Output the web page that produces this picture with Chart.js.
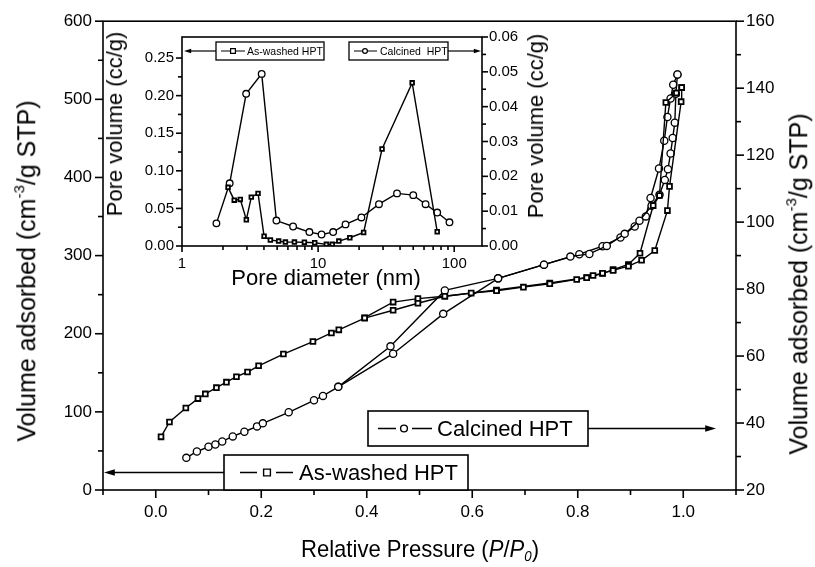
<!DOCTYPE html>
<html>
<head>
<meta charset="utf-8">
<script src="https://cdn.jsdelivr.net/npm/chart.js@4.4.1/dist/chart.umd.min.js"></script>
<style>
  body { margin: 0; background: #fff; }
  #wrap { position: relative; width: 815px; height: 567px; overflow: hidden; }
  #main { position: absolute; left: 0; top: 0; }
  #inset { position: absolute; left: 100px; top: 20px; }
  .t { position: absolute; font-family: "Liberation Sans", Arial, sans-serif; color: #000; white-space: nowrap;
       transform: translate(-50%, -50%); line-height: 1; }
  .rot { transform: translate(-50%, -50%) rotate(-90deg); }
  .narrow { transform: translate(-50%, -50%) scaleX(0.92); }
  sup { font-size: 0.6em; vertical-align: 0.7em; }
  sub { font-size: 0.6em; vertical-align: -0.3em; }
</style>
</head>
<body>
<div id="wrap">
  <canvas id="main" width="815" height="567"></canvas>
  <canvas id="inset" width="460" height="280"></canvas>
  <div class="t rot" style="left:25px;top:271px;font-size:25px;">Volume adsorbed (cm<sup>-3</sup>/g STP)</div>
  <div class="t rot" style="left:797px;top:284px;font-size:25px;">Volume adsorbed (cm<sup>-3</sup>/g STP)</div>
  <div class="t narrow" style="left:420px;top:550px;font-size:24px;">Relative Pressure (<i>P</i>/<i>P</i><sub><i>0</i></sub>)</div>
  <div class="t rot" style="left:115px;top:124px;font-size:22px;">Pore volume (cc/g)</div>
  <div class="t rot" style="left:536px;top:126px;font-size:22px;">Pore volume (cc/g)</div>
  <div class="t" style="left:326px;top:278px;font-size:22px;">Pore diameter (nm)</div>
</div>
<script>
(function () {
  /* ---- isotherms: relative pressure vs volume adsorbed ---- */
  const washedAdsP = [0.01, 0.026, 0.057, 0.08, 0.094, 0.115, 0.134, 0.153, 0.174, 0.195, 0.242, 0.298, 0.333, 0.347, 0.396,
                      0.45, 0.497, 0.548, 0.598, 0.646, 0.697, 0.747, 0.798, 0.817, 0.829, 0.847, 0.867, 0.896, 0.921, 0.946,
                      0.97, 0.974, 0.996, 0.997];
  const washedAdsV = [68, 87, 105, 117, 123, 131, 138, 145, 151, 159, 174, 190, 201, 205, 220,
                      230, 239, 248, 252, 255, 259.6, 264, 269.5, 271.6, 274.6, 277.5, 281, 286.5, 294, 306.5,
                      357.6, 388.6, 497, 515];
  const washedDesP = [0.997, 0.987, 0.967, 0.955, 0.943, 0.918, 0.896, 0.867, 0.847, 0.817, 0.747, 0.646, 0.548, 0.497, 0.45, 0.396];
  const washedDesV = [515, 508, 496, 377, 364, 303, 288.6, 282, 277, 272, 265, 256, 248, 245, 240.5, 220.5];

  const calcAdsP = [0.058, 0.078, 0.10, 0.113, 0.126, 0.146, 0.168, 0.192, 0.203, 0.252, 0.30, 0.317, 0.346,
                    0.45, 0.545, 0.649, 0.736, 0.786, 0.822, 0.855, 0.889, 0.917, 0.94, 0.955, 0.965, 0.971,
                    0.976, 0.98, 0.984, 0.986, 0.989];
  const calcAdsV = [29.6, 31.5, 32.9, 33.6, 34.5, 36, 37.4, 39, 39.9, 43.2, 46.8, 48.1, 50.8,
                    60.7, 72.6, 83.2, 87.3, 89.7, 90.5, 92.9, 96.5, 100.4, 104.9, 108.2, 112.6, 115.8,
                    120.5, 125.1, 129.7, 138.3, 144.1];
  const calcDesP = [0.989, 0.981, 0.976, 0.97, 0.964, 0.954, 0.938, 0.929, 0.908, 0.881, 0.847, 0.803, 0.736, 0.649, 0.548, 0.445, 0.346];
  const calcDesV = [144.1, 141, 136.9, 131.4, 124.3, 116, 107.2, 101.7, 98.7, 95.4, 92.8, 90.4, 87.3, 83.2, 79.6, 62.9, 50.8];

  /* ---- pore size distributions (inset) ---- */
  const washedPoreD = [2.18, 2.42, 2.68, 2.97, 3.23, 3.62, 4.01, 4.46, 5.13, 5.75, 6.7, 7.93, 9.44, 11.5, 12.7, 14.2, 17.1, 21.6, 29.5, 49.1, 75];
  const washedPoreV = [0.078, 0.061, 0.062, 0.035, 0.065, 0.07, 0.013, 0.008, 0.0065, 0.0052, 0.0052, 0.005, 0.0044, 0.0022, 0.0022, 0.0065, 0.011, 0.018, 0.129, 0.217, 0.019];
  const calcPoreD = [1.79, 2.24, 2.96, 3.85, 4.94, 6.55, 8.63, 10.6, 12.9, 15.9, 20.8, 28, 38, 50, 61.6, 75, 92.3];
  const calcPoreV = [0.0065, 0.018, 0.0437, 0.0494, 0.0073, 0.0056, 0.004, 0.0033, 0.004, 0.0062, 0.0082, 0.012, 0.0151, 0.0146, 0.012, 0.0096, 0.0068];

  /* ---- tick labels ---- */
  const xTicks = [0, 0.2, 0.4, 0.6, 0.8, 1.0];
  const yLeftTicks = [0, 100, 200, 300, 400, 500, 600];
  const yRightTicks = [20, 40, 60, 80, 100, 120, 140, 160];
  const insetXTicks = [1, 10, 100];
  const insetLeftTicks = [0, 0.05, 0.10, 0.15, 0.20, 0.25];
  const insetRightTicks = [0, 0.01, 0.02, 0.03, 0.04, 0.05, 0.06];

  const FONT = "'Liberation Sans', Arial, sans-serif";

  function pts(xs, ys) { return xs.map(function (x, i) { return { x: x, y: ys[i] }; }); }
  function halves(vals) {
    const out = [];
    for (let i = 0; i < vals.length - 1; i++) out.push((vals[i] + vals[i + 1]) / 2);
    return out;
  }
  function fixTicks(vals) { return function (s) { s.ticks = vals.map(function (v) { return { value: v }; }); }; }
  function fixWidth(w) { return function (s) { s.width = w; }; }
  function fixHeight(h) { return function (s) { s.height = h; }; }

  function series(label, data, axis, shape, r) {
    return {
      label: label, data: data, yAxisID: axis, showLine: true,
      borderColor: "#000", borderWidth: 1.4, tension: 0,
      pointStyle: shape, pointRadius: r, pointBackgroundColor: "#fff",
      pointBorderColor: "#000", pointBorderWidth: shape === "rect" ? 1.8 : 1.3
    };
  }

  /* frame + outward tick marks, drawn from the chart's own scales */
  const frame = {
    id: "frame",
    afterDraw: function (chart, args, o) {
      const ctx = chart.ctx, a = chart.chartArea;
      ctx.save();
      ctx.strokeStyle = "#000";
      ctx.lineWidth = o.lineWidth;
      ctx.strokeRect(a.left, a.top, a.right - a.left, a.bottom - a.top);
      o.marks.forEach(function (m) {
        const s = chart.scales[m.scale];
        [[m.major, m.majorLen], [m.minor, m.minorLen]].forEach(function (pair) {
          pair[0].forEach(function (v) {
            const p = s.getPixelForValue(v);
            ctx.beginPath();
            if (m.side === "bottom") { ctx.moveTo(p, a.bottom); ctx.lineTo(p, a.bottom + pair[1]); }
            else if (m.side === "left") { ctx.moveTo(a.left, p); ctx.lineTo(a.left - pair[1], p); }
            else { ctx.moveTo(a.right, p); ctx.lineTo(a.right + pair[1], p); }
            ctx.stroke();
          });
        });
      });
      ctx.restore();
    }
  };

  function marker(ctx, shape, x, y, r) {
    ctx.fillStyle = "#fff";
    ctx.beginPath();
    if (shape === "rect") ctx.rect(x - r, y - r, 2 * r, 2 * r);
    else ctx.arc(x, y, r, 0, Math.PI * 2);
    ctx.fill();
    ctx.stroke();
  }

  function arrow(ctx, x1, x2, y, head) {
    const dir = x2 > x1 ? 1 : -1;
    ctx.beginPath(); ctx.moveTo(x1, y); ctx.lineTo(x2 - dir * head, y); ctx.stroke();
    ctx.beginPath();
    ctx.moveTo(x2, y);
    ctx.lineTo(x2 - dir * head * 1.8, y - head * 0.55);
    ctx.lineTo(x2 - dir * head * 1.8, y + head * 0.55);
    ctx.closePath();
    ctx.fillStyle = "#000";
    ctx.fill();
  }

  /* boxed legends with an arrow pointing at the series' axis */
  const boxLegend = {
    id: "boxLegend",
    afterDraw: function (chart, args, o) {
      const ctx = chart.ctx;
      ctx.save();
      o.items.forEach(function (it) {
        const cy = it.y + it.h / 2;
        ctx.strokeStyle = "#000";
        ctx.lineWidth = o.boxWidth;
        ctx.fillStyle = "#fff";
        ctx.fillRect(it.x, it.y, it.w, it.h);
        ctx.strokeRect(it.x, it.y, it.w, it.h);
        ctx.lineWidth = o.lineWidth;
        arrow(ctx, it.arrowFrom, it.arrowTo, cy, o.head);
        ctx.strokeStyle = "#000";
        ctx.beginPath();
        ctx.moveTo(it.x + it.s1, cy); ctx.lineTo(it.x + it.s2, cy);
        ctx.moveTo(it.x + it.s3, cy); ctx.lineTo(it.x + it.s4, cy);
        ctx.stroke();
        marker(ctx, it.shape, it.x + it.m, cy, o.r);
        ctx.fillStyle = "#000";
        ctx.font = o.font;
        ctx.textBaseline = "middle";
        ctx.fillText(it.text, it.x + it.tx, cy + 1);
      });
      ctx.restore();
    }
  };

  Chart.defaults.font.family = FONT;
  Chart.defaults.color = "#000";

  /* ---------------- main isotherm chart ---------------- */
  new Chart(document.getElementById("main"), {
    type: "scatter",
    data: {
      datasets: [
        series("As-washed HPT ads", pts(washedAdsP, washedAdsV), "y", "rect", 3.4),
        series("As-washed HPT des", pts(washedDesP, washedDesV), "y", "rect", 3.4),
        series("Calcined HPT ads", pts(calcAdsP, calcAdsV), "y2", "circle", 3.6),
        series("Calcined HPT des", pts(calcDesP, calcDesV), "y2", "circle", 3.6)
      ]
    },
    options: {
      responsive: false,
      animation: false,
      layout: { padding: { left: 0, right: 0, top: 20, bottom: 0 } },
      plugins: {
        legend: { display: false },
        tooltip: { enabled: false },
        frame: {
          lineWidth: 1.6,
          marks: [
            { scale: "x", side: "bottom", major: xTicks, minor: [-0.1, 0.1, 0.3, 0.5, 0.7, 0.9, 1.1], majorLen: 8, minorLen: 5 },
            { scale: "y", side: "left", major: yLeftTicks, minor: halves(yLeftTicks), majorLen: 8, minorLen: 5 },
            { scale: "y2", side: "right", major: yRightTicks, minor: halves(yRightTicks), majorLen: 8, minorLen: 5 }
          ]
        },
        boxLegend: {
          boxWidth: 1.6, lineWidth: 1.4, head: 6, r: 3.4, font: "22px " + FONT,
          items: [
            { x: 368, y: 411, w: 220, h: 35, shape: "circle", text: "Calcined HPT",
              s1: 10, s2: 28, s3: 44, s4: 64, m: 36, tx: 69, arrowFrom: 588, arrowTo: 716 },
            { x: 224, y: 455, w: 244, h: 35, shape: "rect", text: "As-washed HPT",
              s1: 16, s2: 33, s3: 52, s4: 69, m: 43, tx: 75, arrowFrom: 224, arrowTo: 104 }
          ]
        }
      },
      scales: {
        x: {
          type: "linear", min: -0.1, max: 1.1,
          afterBuildTicks: fixTicks(xTicks), afterFit: fixHeight(77),
          grid: { display: false, drawTicks: false }, border: { display: false },
          ticks: { padding: 12, font: { size: 17 }, callback: function (v) { return v.toFixed(1); } }
        },
        y: {
          type: "linear", position: "left", min: 0, max: 600,
          afterBuildTicks: fixTicks(yLeftTicks), afterFit: fixWidth(103),
          grid: { display: false, drawTicks: false }, border: { display: false },
          ticks: { padding: 11, font: { size: 17 } }
        },
        y2: {
          type: "linear", position: "right", min: 20, max: 160,
          afterBuildTicks: fixTicks(yRightTicks), afterFit: fixWidth(79),
          grid: { display: false, drawTicks: false }, border: { display: false },
          ticks: { padding: 10, font: { size: 17 } }
        }
      }
    },
    plugins: [frame, boxLegend]
  });

  /* ---------------- inset: pore size distribution ---------------- */
  const logMinor = [2, 3, 4, 5, 6, 7, 8, 9, 20, 30, 40, 50, 60, 70, 80, 90];
  new Chart(document.getElementById("inset"), {
    type: "scatter",
    data: {
      datasets: [
        series("As-washed HPT", pts(washedPoreD, washedPoreV), "y", "rect", 2.6),
        series("Calcined HPT", pts(calcPoreD, calcPoreV), "y2", "circle", 3.3)
      ]
    },
    options: {
      responsive: false,
      animation: false,
      layout: { padding: { left: 0, right: 0, top: 12, bottom: 0 } },
      plugins: {
        legend: { display: false },
        tooltip: { enabled: false },
        frame: {
          lineWidth: 1.6,
          marks: [
            { scale: "x", side: "bottom", major: insetXTicks, minor: logMinor, majorLen: 6, minorLen: 4 },
            { scale: "y", side: "left", major: insetLeftTicks, minor: halves(insetLeftTicks), majorLen: 6, minorLen: 4 },
            { scale: "y2", side: "right", major: insetRightTicks, minor: halves(insetRightTicks), majorLen: 6, minorLen: 4 }
          ]
        },
        boxLegend: {
          boxWidth: 1.3, lineWidth: 1.2, head: 4, r: 2.4, font: "10.5px " + FONT,
          items: [
            { x: 116, y: 22, w: 108, h: 18, shape: "rect", text: "As-washed HPT",
              s1: 5, s2: 26, s3: 26, s4: 29, m: 17, tx: 31, arrowFrom: 116, arrowTo: 84 },
            { x: 249, y: 22, w: 99, h: 18, shape: "circle", text: "Calcined  HPT",
              s1: 5, s2: 26, s3: 26, s4: 28, m: 16, tx: 31, arrowFrom: 348, arrowTo: 381 }
          ]
        }
      },
      scales: {
        x: {
          type: "logarithmic", min: 1, max: 160,
          afterBuildTicks: fixTicks(insetXTicks), afterFit: fixHeight(54),
          grid: { display: false, drawTicks: false }, border: { display: false },
          ticks: { padding: 9, font: { size: 15 }, autoSkip: false, maxRotation: 0, callback: function (v) { return String(v); } }
        },
        y: {
          type: "linear", position: "left", min: 0, max: 0.278,
          afterBuildTicks: fixTicks(insetLeftTicks), afterFit: fixWidth(82),
          grid: { display: false, drawTicks: false }, border: { display: false },
          ticks: { padding: 8, font: { size: 15 }, callback: function (v) { return v.toFixed(2); } }
        },
        y2: {
          type: "linear", position: "right", min: 0, max: 0.06,
          afterBuildTicks: fixTicks(insetRightTicks), afterFit: fixWidth(78),
          grid: { display: false, drawTicks: false }, border: { display: false },
          ticks: { padding: 7, font: { size: 15 }, callback: function (v) { return v.toFixed(2); } }
        }
      }
    },
    plugins: [frame, boxLegend]
  });
})();
</script>
</body>
</html>
